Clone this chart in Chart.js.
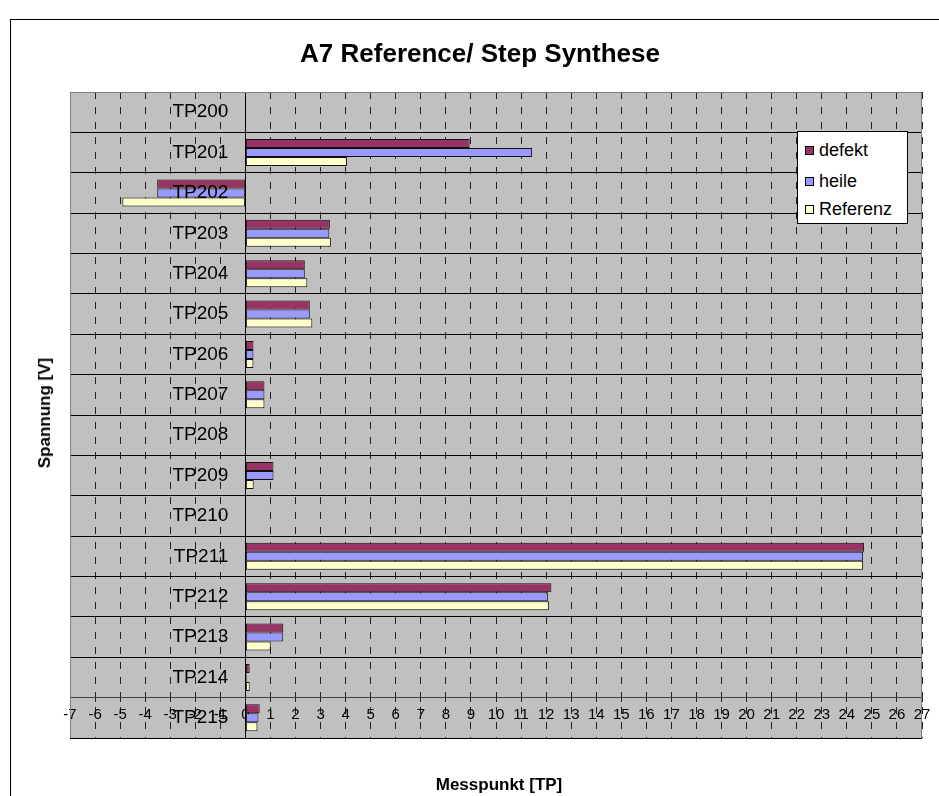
<!DOCTYPE html>
<html>
<head>
<meta charset="utf-8">
<title>A7 Reference/ Step Synthese</title>
<script src="https://cdn.jsdelivr.net/npm/chart.js@4.4.1/dist/chart.umd.min.js"></script>
<style>
  body { margin: 0; background: #fff; font-family: "Liberation Sans", Arial, sans-serif; }
  #wrap { position: relative; width: 939px; height: 796px; overflow: hidden; }
  #frame { position: absolute; left: 10px; top: 19px; width: 1000px; height: 900px; border: 1px solid #000; }
  #box { position: absolute; left: 0; top: 0; width: 939px; height: 796px; }
  .txt { position: absolute; font-weight: bold; color: #000; white-space: nowrap; transform: translate(-50%, -50%); }
  #title { left: 480px; top: 53px; font-size: 26px; }
  #xtitle { left: 499px; top: 785px; font-size: 17px; }
  #ytitle { left: 45px; top: 413px; font-size: 17px; transform: translate(-50%, -50%) rotate(-90deg); }
  #legend { position: absolute; left: 797px; top: 131px; width: 109px; height: 91px; background: #fff; border: 1px solid #000; }
  #legend div { position: absolute; left: 7px; font-size: 18px; line-height: 20px; height: 20px; }
  #legend span { display: inline-block; width: 7px; height: 7px; border: 1px solid #000; margin-right: 5px; vertical-align: 1px; }
</style>
</head>
<body>
<div id="wrap">
  <div id="frame"></div>
  <div id="box"><canvas id="chart"></canvas></div>
  <div class="txt" id="title">A7 Reference/ Step Synthese</div>
  <div class="txt" id="ytitle">Spannung [V]</div>
  <div class="txt" id="xtitle">Messpunkt [TP]</div>
  <div id="legend"></div>
</div>
<script>
const categories = ['TP200', 'TP201', 'TP202', 'TP203', 'TP204', 'TP205', 'TP206', 'TP207',
                    'TP208', 'TP209', 'TP210', 'TP211', 'TP212', 'TP213', 'TP214', 'TP215'];
const defekt   = [null, 8.95, -3.52, 3.37, 2.37, 2.57, 0.32, 0.76, null, 1.12, null, 24.69, 12.21, 1.51, 0.17, 0.57];
const heile    = [null, 11.44, -3.52, 3.35, 2.37, 2.57, 0.32, 0.76, null, 1.12, null, 24.65, 12.07, 1.51, 0.05, 0.52];
const referenz = [null, 4.05, -4.91, 3.41, 2.47, 2.67, 0.32, 0.76, null, 0.33, null, 24.65, 12.11, 1.01, 0.17, 0.48];
const xMin = -7;
const xMax = 27;

const seriesNames = ['defekt', 'heile', 'Referenz'];
const seriesColors = ['#993366', '#9999FF', '#FFFFCC'];
const seriesData = [defekt, heile, referenz];

// grey plot area with a thin frame
const plotBg = {
  id: 'plotBg',
  beforeDraw(chart) {
    const { ctx, chartArea: a } = chart;
    ctx.save();
    ctx.fillStyle = '#C0C0C0';
    ctx.fillRect(a.left, a.top, a.right - a.left, a.bottom - a.top);
    ctx.restore();
  },
  afterDraw(chart) {
    const { ctx, chartArea: a } = chart;
    ctx.save();
    ctx.strokeStyle = '#808080';
    ctx.lineWidth = 1;
    ctx.beginPath();
    ctx.moveTo(a.left + 0.5, a.bottom);
    ctx.lineTo(a.left + 0.5, a.top + 0.5);
    ctx.lineTo(a.right - 0.5, a.top + 0.5);
    ctx.lineTo(a.right - 0.5, a.bottom);
    ctx.stroke();
    ctx.restore();
  }
};

const ctx = document.getElementById('chart').getContext('2d');
new Chart(ctx, {
  type: 'bar',
  data: {
    labels: categories,
    datasets: seriesData.map((d, i) => ({
      label: seriesNames[i],
      data: d,
      backgroundColor: seriesColors[i],
      borderColor: '#111',
      borderWidth: 1,
      borderSkipped: false,
      categoryPercentage: 0.67,
      barPercentage: 1
    }))
  },
  options: {
    indexAxis: 'y',
    responsive: true,
    maintainAspectRatio: false,
    animation: false,
    layout: { padding: { left: 70, right: 17, top: 92, bottom: 58 } },
    plugins: { legend: { display: false }, tooltip: { enabled: false } },
    scales: {
      x: {
        type: 'linear',
        min: xMin,
        max: xMax,
        position: { y: 14.5 },
        ticks: { stepSize: 1, autoSkip: false, maxRotation: 0, color: '#000', padding: 4,
                 font: { family: 'Liberation Sans, Arial', size: 15 } },
        grid: { color: c => (c.tick && c.tick.value === 0) ? '#000' : '#222', lineWidth: 1,
                tickLength: 4, tickColor: '#222', tickBorderDash: [] },
        border: { display: true, color: '#404040', width: 1,
                  dash: c => (c.tick && c.tick.value === 0) ? [] : [7, 8] }
      },
      y: {
        type: 'category',
        offset: true,
        position: { x: -0.68 },
        ticks: { z: 1, autoSkip: false, color: '#000', font: { family: 'Liberation Sans, Arial', size: 19 } },
        grid: { color: '#000', lineWidth: 1, offset: true, drawTicks: false },
        border: { display: false }
      }
    }
  },
  plugins: [plotBg]
});

// legend box
const legend = document.getElementById('legend');
const rows = [8, 39, 67];
seriesNames.forEach((n, i) => {
  const item = document.createElement('div');
  item.style.top = rows[i] + 'px';
  item.innerHTML = '<span style="background:' + seriesColors[i] + '"></span>' + n;
  legend.appendChild(item);
});
</script>
</body>
</html>
